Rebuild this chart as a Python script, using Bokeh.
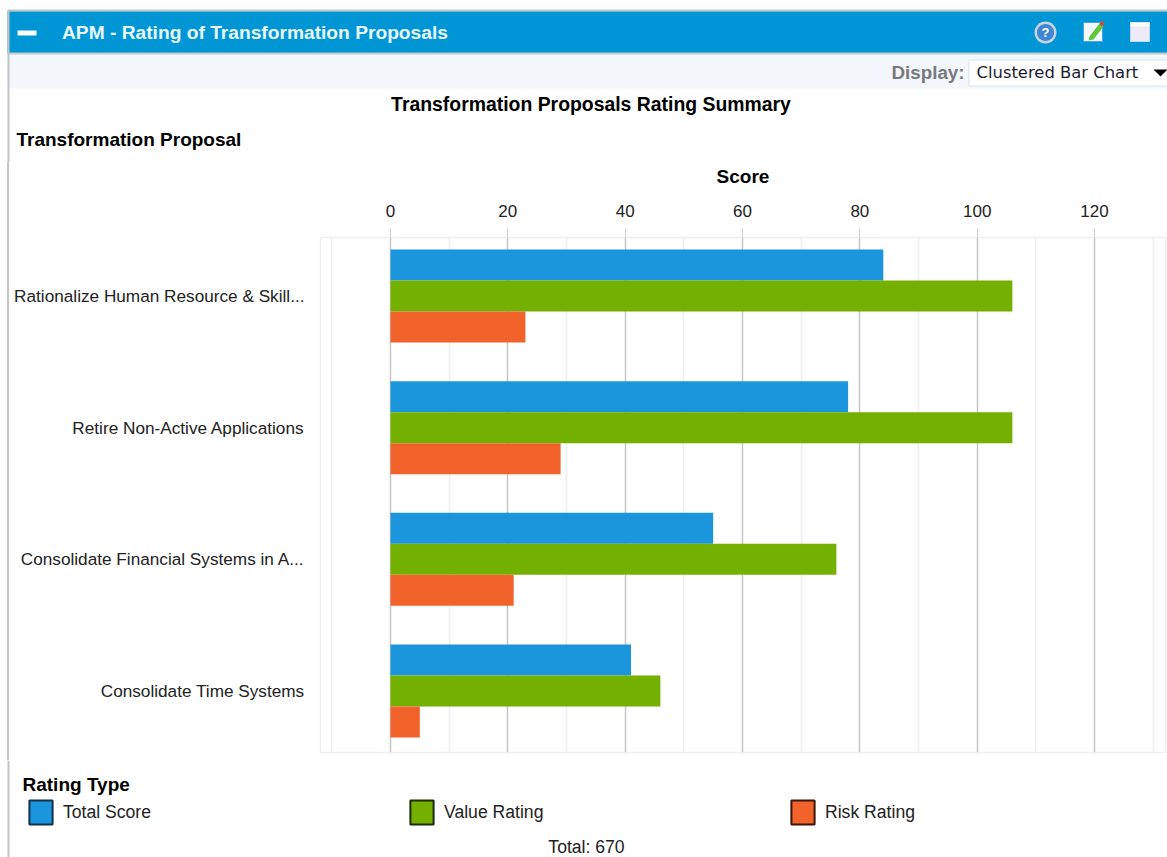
from bokeh.plotting import figure
from bokeh.embed import file_html
from bokeh.resources import INLINE
from bokeh.layouts import column, row
from bokeh.core.properties import value
from bokeh.models import (Range1d, FixedTicker, Legend, LegendItem, ColumnDataSource)
import math

proposals = ["Rationalize Human Resource & Skill...", "Retire Non-Active Applications",
             "Consolidate Financial Systems in A...", "Consolidate Time Systems"]
total_score = [84, 78, 55, 41]
value_rating = [106, 106, 76, 46]
risk_rating = [23, 29, 21, 5]
series_names = ["Total Score", "Value Rating", "Risk Rating"]
series_values = [total_score, value_rating, risk_rating]
colors = ["#1b96dc", "#73b000", "#f2622b"]
edge_colors = ["#12324c", "#1c2c00", "#3a1508"]
x_major = [0, 20, 40, 60, 80, 100, 120]
x_minor = [-10, 10, 30, 50, 70, 90, 110, 130]

W, H = 1167, 857
TOP_H, MID_H = 162, 598
BOT_H = H - TOP_H - MID_H
STRIP = 9
FONT = "Liberation Sans"


def canvas_fig(w, h, y0):
    f = figure(width=w, height=h, output_backend="svg", toolbar_location=None,
               x_axis_location=None, y_axis_location=None,
               x_range=Range1d(0, w), y_range=Range1d(y0 + h, y0),
               min_border=0, min_border_left=0, min_border_right=0, min_border_top=0, min_border_bottom=0,
               outline_line_color=None, background_fill_color="white", border_fill_color="white")
    f.grid.visible = False
    return f


def box(f, x0, y0, x1, y1, fill, line=None):
    f.quad(left=[x0], right=[x1], top=[y0], bottom=[y1], fill_color=fill, line_color=line)


def poly(f, xs, ys, fill):
    f.patch(x=list(xs), y=list(ys), fill_color=fill, line_color=None)


def text(f, x, y, s, size, color="black", style="normal", align="left", font=FONT):
    f.text(x=[x], y=[y], text=[s], text_font=value(font), text_font_size=value(f"{size}px"),
           text_color=color, text_font_style=style, text_align=align, text_baseline="middle")


# ---- top chrome
top = canvas_fig(W, TOP_H, 0)
box(top, 7, 9, W, 11, "#c4c4c4")
box(top, 7, 11, W, 53, "#0096d6")
box(top, 7, 53, W, 88, "#f3f6fa")
box(top, 7, 52, W, 54, "#c0cad2")
box(top, 7, 10, 9, TOP_H, "#c4c4c4")
box(top, 17, 30, 36, 35, "#ffffff")
text(top, 61.5, 32, "APM - Rating of Transformation Proposals", 19.2, "#e8f6fd", "bold")
text(top, 891, 71.5, "Display:", 18.8, "#77787f", "bold")
box(top, 968.5, 59.5, W + 2, 85.5, "#ffffff", "#dde3e8")
text(top, 976, 72, "Clustered Bar Chart", 16.4, "#1c1c30", font="DejaVu Sans")
poly(top, [1153, 1167, 1160], [69, 69, 76], "#000000")

N = 32


def circle(cxx, cyy, r):
    return ([cxx + r * math.cos(2 * math.pi * k / N) for k in range(N)],
            [cyy + r * math.sin(2 * math.pi * k / N) for k in range(N)])


poly(top, *circle(1045, 32, 11), "#c9d3e2")
poly(top, *circle(1045, 32, 8.5), "#3f86d4")
text(top, 1045, 32, "?", 13, "#ffffff", "bold", "center")
box(top, 1083, 22, 1102, 41, "#f4f8ff", "#4aa0f0")
poly(top, [1089, 1099, 1103, 1093, 1088], [36, 23, 26, 39, 40], "#62c83a")
poly(top, [1099, 1102, 1104, 1101], [23, 20, 23, 26], "#d04a3a")
box(top, 1130, 22, 1149, 41, "#eeeaf8", "#bcd8fa")
box(top, 1130, 22, 1149, 26, "#f8fbff")
text(top, 590.5, 103.5, "Transformation Proposals Rating Summary", 19.4, "black", "bold", "center")
text(top, 16, 138.5, "Transformation Proposal", 19, "black", "bold")

# ---- chart (the grey edge of the panel is a shadow on its left side)
p = figure(width=W - STRIP, height=MID_H, output_backend="svg", toolbar_location=None,
           x_axis_location="above",
           x_range=Range1d(-11.93, 132.1), y_range=Range1d(3.467, -0.444),
           min_border_left=320 - STRIP, min_border_right=2, min_border_top=75, min_border_bottom=8,
           outline_line_color="#eeeeee", outline_line_width=1.5,
           background_fill_color="white", border_fill_color="white",
           margin=(0, 0, 0, STRIP), styles={"box-shadow": "-2px 0 0 0 #c4c4c4"})

for i, (name, vals, col) in enumerate(zip(series_names, series_values, colors)):
    y = [j + (i - 1) * 0.2354 for j in range(len(proposals))]
    p.hbar(y=y, left=0, right=vals, height=0.2354, fill_color=col, line_color=None)

ax = p.xaxis[0]
ax.ticker = FixedTicker(ticks=x_major, minor_ticks=x_minor)
ax.axis_label = "Score"
ax.axis_label_text_font = FONT
ax.axis_label_text_font_size = "19px"
ax.axis_label_text_font_style = "bold"
ax.axis_label_text_color = "black"
ax.axis_label_standoff = 15
ax.major_label_text_font = FONT
ax.major_label_text_font_size = "17px"
ax.major_label_text_color = "#222222"
ax.major_label_standoff = 12
ax.axis_line_color = None
ax.major_tick_line_color = "#cccccc"
ax.major_tick_out = 9
ax.major_tick_in = 0
ax.minor_tick_line_color = None

ay = p.yaxis[0]
ay.ticker = FixedTicker(ticks=list(range(len(proposals))))
ay.major_label_overrides = {i: s for i, s in enumerate(proposals)}
ay.major_label_text_font = FONT
ay.major_label_text_font_size = "17.2px"
ay.major_label_text_color = "#222222"
ay.major_label_standoff = 16
ay.axis_line_color = None
ay.major_tick_line_color = None
ay.major_tick_out = 0
ay.major_tick_in = 0
ay.minor_tick_line_color = None

p.ygrid.visible = False
p.xgrid.grid_line_color = "#c6c6c6"
p.xgrid.grid_line_width = 1.5
p.xgrid.minor_grid_line_color = "#eeeeee"
p.xgrid.minor_grid_line_width = 1.5

# ---- legend strip
bot = canvas_fig(W, BOT_H, TOP_H + MID_H)
box(bot, 7, TOP_H + MID_H, 9, H, "#c4c4c4")
text(bot, 22, 784, "Rating Type", 19, "black", "bold")
text(bot, 586, 846.5, "Total: 670", 17.6, "#222222", align="center")
items = []
for name, col, edge in zip(series_names, colors, edge_colors):
    # legend keys: a zero-size bar hidden beneath the first key, only the keys are seen
    r = bot.hbar(y="y", left="x", right="x", height=0, fill_color=col, line_color=edge, line_width=2,
                 source=ColumnDataSource(dict(x=[40], y=[812])))
    items.append(LegendItem(label=name, renderers=[r]))
legend = Legend(items=items, orientation="horizontal", location=(26, 30),
                glyph_width=29, glyph_height=30, label_standoff=8, spacing=0, padding=0, margin=0,
                label_width=344, label_text_font=FONT, label_text_font_size="17.6px",
                label_text_color="#222222", background_fill_alpha=0, border_line_color=None)
bot.add_layout(legend, "center")

page = column(top, row(p, spacing=0), bot, spacing=0)
open("out.html", "w").write(file_html(page, INLINE))
